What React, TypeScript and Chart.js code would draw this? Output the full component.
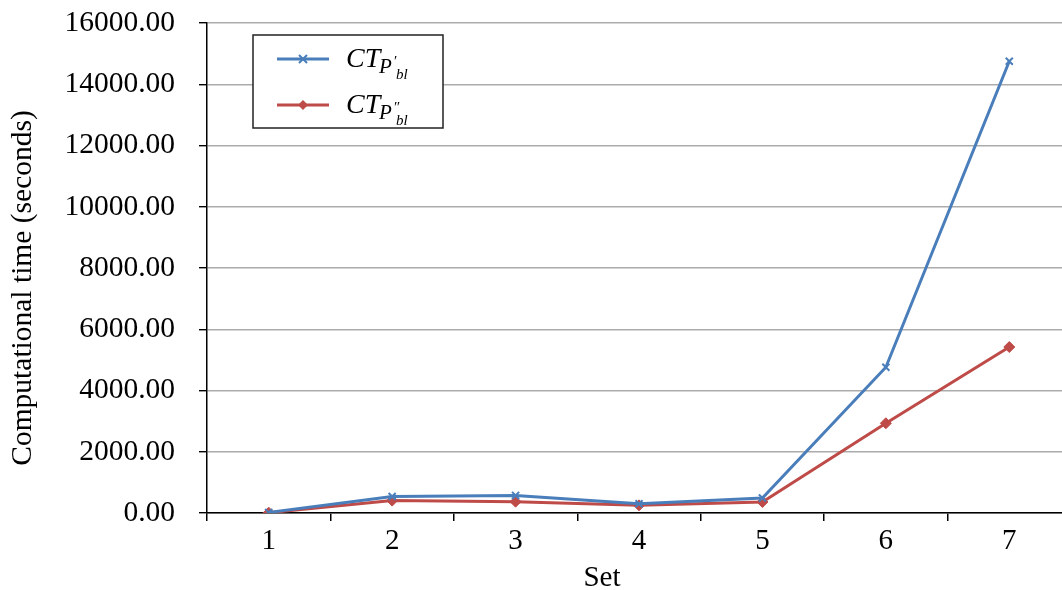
import React, { useEffect, useRef } from "react";
import { Chart, registerables } from "chart.js";

Chart.register(...registerables);

const categories = ["1", "2", "3", "4", "5", "6", "7"];
const seriesPrime = [20, 540, 575, 300, 490, 4760, 14750];
const seriesDoublePrime = [10, 405, 370, 250, 360, 2930, 5420];
const yTicks = [0, 2000, 4000, 6000, 8000, 10000, 12000, 14000, 16000];
const xTitle = "Set";
const yTitle = "Computational time (seconds)";
const legendPrimes = ["\u2032", "\u2033"];

const BLUE = "#4A7EBB";
const RED = "#BE4B48";
const SERIF = '"Liberation Serif", "Times New Roman", serif';

const customPlugin = {
  id: "custom",
  afterDraw(chart: any) {
    const ctx = chart.ctx;
    ctx.save();
    // axis titles
    ctx.fillStyle = "#000";
    ctx.font = `29.5px ${SERIF}`;
    ctx.textAlign = "center";
    ctx.textBaseline = "middle";
    ctx.save();
    ctx.translate(23, 288);
    ctx.rotate(-Math.PI / 2);
    ctx.fillText(yTitle, 0, 0);
    ctx.restore();
    ctx.font = `29px ${SERIF}`;
    ctx.fillText(xTitle, 602, 578);

    // legend
    const bx = 253, by = 35, bw = 190, bh = 93;
    ctx.fillStyle = "#fff";
    ctx.fillRect(bx, by, bw, bh);
    ctx.strokeStyle = "#222";
    ctx.lineWidth = 1.5;
    ctx.strokeRect(bx, by, bw, bh);
    const rows = [
      { y: 59, color: BLUE, style: "cross" },
      { y: 105, color: RED, style: "diamond" },
    ];
    rows.forEach((r, i) => {
      ctx.strokeStyle = r.color;
      ctx.lineWidth = 3;
      ctx.beginPath();
      ctx.moveTo(277, r.y);
      ctx.lineTo(329, r.y);
      ctx.stroke();
      if (r.style === "cross") {
        ctx.lineWidth = 2;
        ctx.beginPath();
        ctx.moveTo(299, r.y - 4);
        ctx.lineTo(307, r.y + 4);
        ctx.moveTo(307, r.y - 4);
        ctx.lineTo(299, r.y + 4);
        ctx.stroke();
      } else {
        ctx.fillStyle = r.color;
        ctx.beginPath();
        ctx.moveTo(303, r.y - 5);
        ctx.lineTo(308, r.y);
        ctx.lineTo(303, r.y + 5);
        ctx.lineTo(298, r.y);
        ctx.closePath();
        ctx.fill();
      }
      // text CT_{P'_{bl}}
      ctx.fillStyle = "#000";
      ctx.textAlign = "left";
      ctx.textBaseline = "alphabetic";
      const base = r.y + 8;
      ctx.font = `italic 28px ${SERIF}`;
      ctx.fillText("CT", 346, base);
      ctx.font = `italic 21px ${SERIF}`;
      ctx.fillText("P", 379, base + 6);
      ctx.font = `15px ${SERIF}`;
      ctx.fillText(legendPrimes[i], 394, base - 1);
      ctx.font = `italic 15px ${SERIF}`;
      ctx.fillText("bl", 396, base + 12);
    });
    ctx.restore();
  },
};

export default function App() {
  const ref = useRef<HTMLCanvasElement>(null);
  useEffect(() => {
    if (!ref.current) return;
    const chart = new Chart(ref.current, {
      type: "line",
      data: {
        labels: categories,
        datasets: [
          {
            label: "CT P'bl",
            data: seriesPrime,
            borderColor: BLUE,
            backgroundColor: BLUE,
            borderWidth: 3,
            pointStyle: "crossRot",
            pointRadius: 5,
            pointBorderWidth: 2,
            pointBorderColor: BLUE,
            tension: 0,
          },
          {
            label: "CT P''bl",
            data: seriesDoublePrime,
            borderColor: RED,
            backgroundColor: RED,
            borderWidth: 3,
            pointStyle: "rectRot",
            pointRadius: 5.5,
            pointBorderWidth: 1,
            pointBorderColor: RED,
            tension: 0,
          },
        ],
      },
      options: {
        responsive: false,
        animation: false,
        devicePixelRatio: 1,
        layout: { padding: { top: 23, right: 9, left: 0, bottom: 0 } },
        plugins: {
          legend: { display: false },
          tooltip: { enabled: false },
        },
        scales: {
          x: {
            type: "category",
            offset: true,
            grid: {
              display: true,
              drawOnChartArea: false,
              drawTicks: true,
              tickLength: 8,
              color: "#000",
              lineWidth: 1.5,
              offset: true,
            },
            border: { display: true, color: "#000", width: 1.5 },
            ticks: {
              color: "#000",
              font: { family: SERIF, size: 29 },
              padding: 3,
              maxRotation: 0,
            },
            afterFit(scale: any) {
              scale.height = 77;
              scale.paddingLeft = 0;
              scale.paddingRight = 0;
            },
          },
          y: {
            min: 0,
            max: 16000,
            afterBuildTicks(scale: any) {
              scale.ticks = yTicks.map((v) => ({ value: v }));
            },
            grid: {
              color: "#ababab",
              lineWidth: 1.4,
              tickColor: "#000",
              tickLength: 8,
            },
            border: { display: true, color: "#000", width: 1.5 },
            ticks: {
              color: "#000",
              font: { family: SERIF, size: 29.5 },
              padding: 24,
              callback: (v: any) => Number(v).toFixed(2),
            },
            afterFit(scale: any) {
              scale.width = 207;
              scale.paddingTop = 0;
              scale.paddingBottom = 0;
            },
          },
        },
      },
      plugins: [customPlugin],
    });
    return () => chart.destroy();
  }, []);
  return (
    <div
      style={{
        position: "absolute",
        left: 0,
        top: 0,
        width: 1062,
        height: 590,
        overflow: "hidden",
        background: "#fff",
      }}
    >
      <canvas ref={ref} width={1080} height={590} style={{ display: "block" }} />
    </div>
  );
}
